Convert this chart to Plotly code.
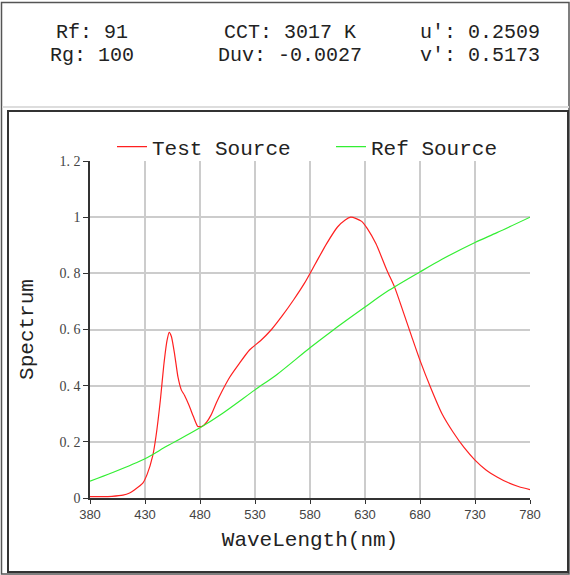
import plotly.graph_objects as go

# ---- data ----
test_wl = [380, 390, 400, 410, 416, 420, 428, 432, 437, 440, 444, 447, 450, 452, 454, 457, 460, 463,
           466, 470, 474, 478, 482, 486, 490, 495, 500, 507, 515, 525, 535, 545, 555, 565, 575,
           585, 595, 605, 612, 617, 622, 627, 632, 640, 650, 657, 665, 672, 680, 690, 700, 710,
           720, 730, 740, 750, 760, 770, 780]
test_val = [0.005, 0.005, 0.006, 0.01, 0.018, 0.028, 0.053, 0.085, 0.15, 0.22, 0.35, 0.47, 0.56,
            0.59, 0.575, 0.51, 0.43, 0.385, 0.365, 0.33, 0.29, 0.255, 0.255, 0.27, 0.295, 0.34,
            0.38, 0.43, 0.475, 0.527, 0.56, 0.60, 0.65, 0.705, 0.765, 0.835, 0.905, 0.965, 0.99,
            1.0, 0.995, 0.985, 0.96, 0.905, 0.81, 0.75, 0.66, 0.58, 0.49, 0.39, 0.30, 0.235,
            0.18, 0.135, 0.10, 0.075, 0.055, 0.04, 0.03]

ref_wl = [380, 400, 430, 450, 480, 500, 530, 550, 580, 600, 630, 650, 680, 700, 730, 750, 780]
ref_val = [0.06, 0.09, 0.14, 0.185, 0.25, 0.30, 0.385, 0.44, 0.535, 0.595, 0.68, 0.735, 0.805,
           0.85, 0.91, 0.945, 1.0]

x_ticks = [380, 430, 480, 530, 580, 630, 680, 730, 780]
y_ticks = [0, 0.2, 0.4, 0.6, 0.8, 1.0, 1.2]
y_tick_text = ["0", "0. 2", "0. 4", "0. 6", "0. 8", "1", "1. 2"]

header = [("Rf: 91", "Rg: 100"), ("CCT: 3017 K", "Duv: -0.0027"), ("u': 0.2509", "v': 0.5173")]

# ---- layout geometry (pixels) ----
W, H = 570, 575
L, R, T, B = 90, 40, 161, 77
pw, ph = W - L - R, H - T - B


def px(x):
    return (x - L) / pw


def py(y):
    return (H - B - y) / ph


mono = "Liberation Mono"

fig = go.Figure()
fig.add_trace(go.Scatter(x=test_wl, y=test_val, mode="lines", name="Test Source",
                         line=dict(color="#ff2020", width=1.2, shape="spline", smoothing=0.6)))
fig.add_trace(go.Scatter(x=ref_wl, y=ref_val, mode="lines", name="Ref Source",
                         line=dict(color="#33ee33", width=1.2, shape="spline", smoothing=0.8)))

shapes = [
    # outer frame
    dict(type="rect", xref="paper", yref="paper", x0=px(1.5), x1=px(569), y0=py(574), y1=py(2.5),
         line=dict(color="#555555", width=1.5)),
    # light separator
    dict(type="line", xref="paper", yref="paper", x0=px(2), x1=px(569), y0=py(107), y1=py(107),
         line=dict(color="#dddddd", width=2)),
    # inner frame
    dict(type="rect", xref="paper", yref="paper", x0=px(8), x1=px(568), y0=py(572), y1=py(111),
         line=dict(color="#333333", width=2)),
]

annotations = []
col_x = [92, 290, 480]
for cx, (r1, r2) in zip(col_x, header):
    annotations.append(dict(text=r1, x=px(cx), y=py(32), xref="paper", yref="paper",
                            xanchor="center", yanchor="middle",
                            showarrow=False, font=dict(family=mono, size=20, color="#222")))
    annotations.append(dict(text=r2, x=px(cx), y=py(55), xref="paper", yref="paper",
                            xanchor="center", yanchor="middle",
                            showarrow=False, font=dict(family=mono, size=20, color="#222")))

fig.update_layout(
    width=W, height=H,
    margin=dict(l=L, r=R, t=T, b=B, autoexpand=False),
    paper_bgcolor="white", plot_bgcolor="white",
    shapes=shapes, annotations=annotations,
    legend=dict(orientation="h", x=px(112), xanchor="left", y=py(147), yanchor="middle",
                font=dict(family=mono, size=21, color="#222"), itemwidth=30,
                entrywidth=174, bgcolor="rgba(0,0,0,0)"),
    xaxis=dict(range=[380, 780], tickvals=x_ticks, showgrid=True, gridcolor="#cccccc",
               gridwidth=1.5, showline=True, linecolor="#333", linewidth=1.5,
               ticks="outside", ticklen=4, tickcolor="#333", zeroline=False,
               tickfont=dict(family="Liberation Sans", size=13, color="#444"),
               title=dict(text="WaveLength(nm)", font=dict(family=mono, size=21, color="#222"),
                          standoff=10)),
    yaxis=dict(range=[0, 1.2], tickvals=y_ticks, ticktext=y_tick_text, showgrid=True,
               gridcolor="#cccccc", gridwidth=1.5, showline=True, linecolor="#333",
               linewidth=1.5, ticks="outside", ticklen=5, tickcolor="#333", zeroline=False,
               tickfont=dict(family="Liberation Serif", size=14, color="#444"),
               title=dict(text="Spectrum", font=dict(family=mono, size=21, color="#222"),
                          standoff=20)),
)

fig.write_html("out.html", config={"displayModeBar": False},
               post_script="document.body.style.margin='0px';")
